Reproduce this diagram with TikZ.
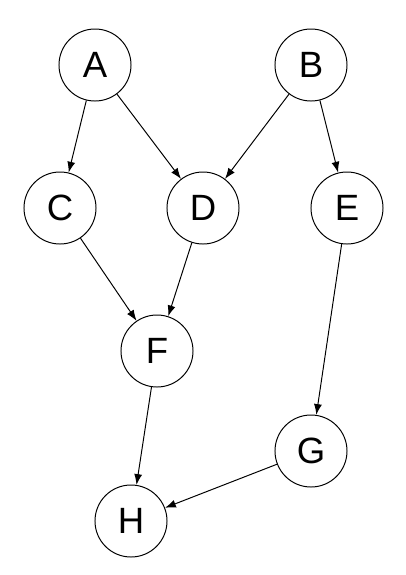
\documentclass[tikz,border=0pt]{standalone}
\usepackage{fontspec}
\setmainfont{Liberation Sans}
\usetikzlibrary{arrows.meta}

\begin{document}
\begin{tikzpicture}[
    x=0.025cm, y=-0.025cm,
    vertex/.style={circle, draw, line width=0.7pt, minimum size=1.8cm, inner sep=0pt, font=\fontsize{26}{30}\selectfont},
    arrow/.style={-{Latex[length=2.7mm, width=2mm]}, line width=0.7pt}
]
\useasboundingbox (0,0) rectangle (406,575);

% Nodes
\node[vertex] (A) at (95,65) {A};
\node[vertex] (B) at (311,65) {B};
\node[vertex] (C) at (60,208) {C};
\node[vertex] (D) at (203,208) {D};
\node[vertex] (E) at (347,208) {E};
\node[vertex] (F) at (157,351) {F};
\node[vertex] (G) at (311,451) {G};
\node[vertex] (H) at (131,521) {H};

% Edges
\draw[arrow] (A) -- (C);
\draw[arrow] (A) -- (D);
\draw[arrow] (B) -- (D);
\draw[arrow] (B) -- (E);
\draw[arrow] (C) -- (F);
\draw[arrow] (D) -- (F);
\draw[arrow] (E) -- (G);
\draw[arrow] (F) -- (H);
\draw[arrow] (G) -- (H);
\end{tikzpicture}
\end{document}
